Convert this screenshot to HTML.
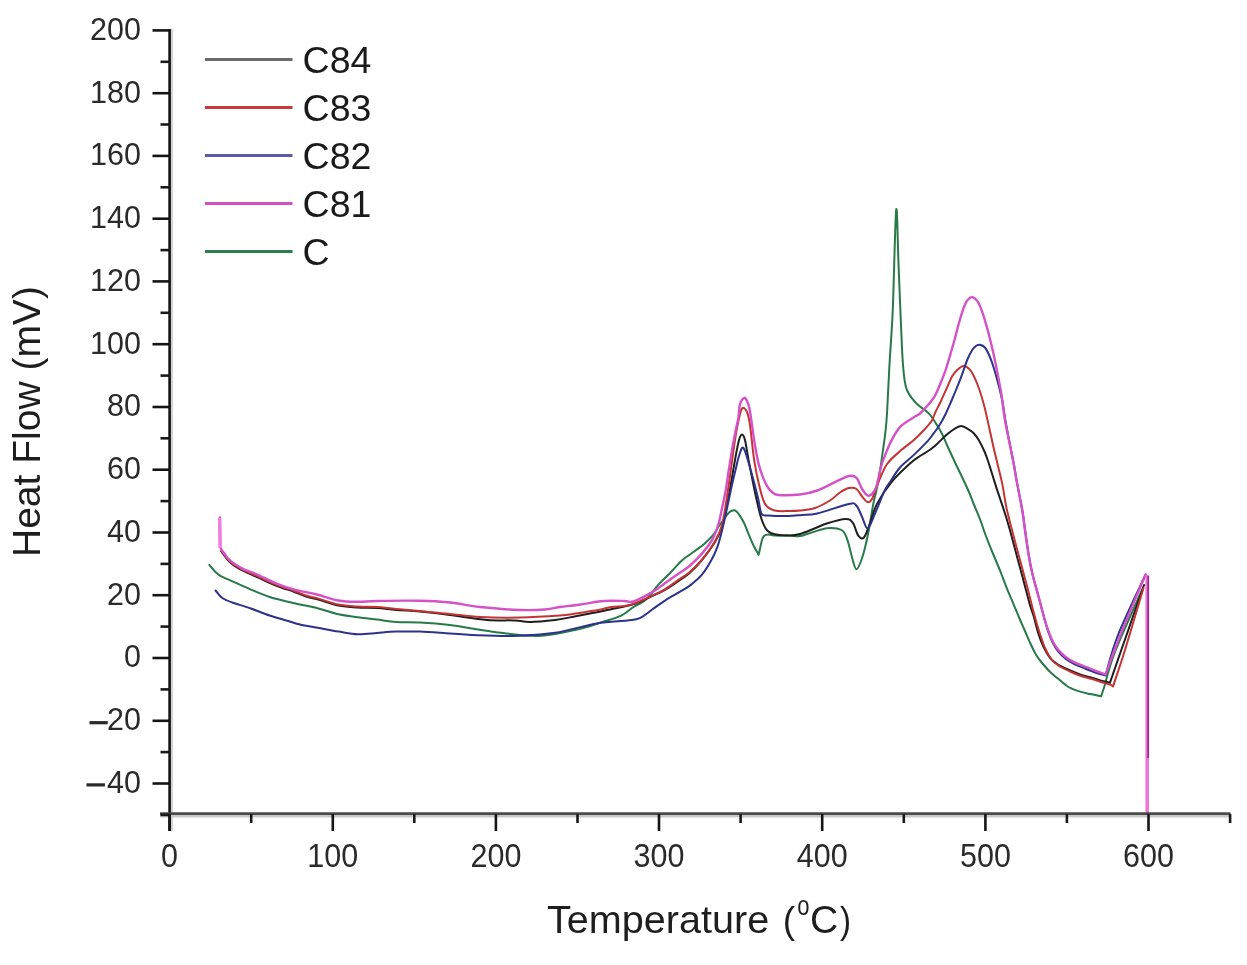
<!DOCTYPE html>
<html><head><meta charset="utf-8"><style>
html,body{margin:0;padding:0;background:#fff;width:1247px;height:965px;overflow:hidden}
svg{display:block;filter:blur(0.6px)}
text{font-family:"Liberation Sans",sans-serif;fill:#2a2a2a}
.tk{font-size:30.5px}
.lg{font-size:37.5px;fill:#1a1a1a}
.tt{font-size:39px;fill:#1e1e1e}
</style></head><body>
<svg width="1247" height="965" viewBox="0 0 1247 965">
<rect width="1247" height="965" fill="#fff"/>
<g>
<path d="M209.3,564.9C209.9,565.6 211.7,567.7 212.8,569.0C213.9,570.3 214.8,571.5 216.0,572.6C217.2,573.7 218.4,574.6 220.0,575.6C221.6,576.6 223.6,577.5 225.7,578.4C227.8,579.3 228.1,579.4 232.3,581.3C236.5,583.2 244.8,587.0 251.0,589.6C257.2,592.2 262.4,594.7 269.6,597.0C276.9,599.3 286.9,601.5 294.5,603.2C302.1,605.0 307.7,605.6 315.0,607.5C322.3,609.4 331.4,612.7 338.5,614.3C345.6,615.9 351.3,616.3 357.7,617.2C364.1,618.1 370.6,618.8 377.0,619.6C383.4,620.4 389.0,621.5 396.2,622.0C403.4,622.5 411.0,622.0 420.0,622.5C429.0,623.0 437.9,623.6 450.0,625.1C462.1,626.6 477.9,629.9 492.6,631.7C507.3,633.5 524.5,636.2 538.4,635.9C552.3,635.6 565.3,632.0 576.0,629.7C586.7,627.4 594.9,624.3 602.4,622.0C609.9,619.7 615.9,618.2 621.1,615.7C626.3,613.2 629.4,609.7 633.5,607.0C637.6,604.3 641.9,603.3 646.0,599.6C650.1,595.9 654.3,589.3 658.4,584.7C662.5,580.1 666.8,576.3 670.8,572.2C674.8,568.1 678.4,563.5 682.4,560.0C686.4,556.5 691.2,553.8 694.9,551.0C698.6,548.2 701.7,546.1 704.8,543.4C707.9,540.7 711.3,537.4 713.5,534.7C715.7,532.1 716.2,530.1 718.0,527.5C719.8,524.9 722.2,521.5 724.0,519.0C725.8,516.5 727.4,514.0 729.0,512.5C730.6,511.1 732.4,510.5 733.6,510.3C734.9,510.1 735.5,510.7 736.5,511.5C737.5,512.3 738.3,513.4 739.5,515.3C740.7,517.1 742.6,519.9 743.9,522.6C745.2,525.3 746.4,528.6 747.5,531.3C748.6,533.9 749.3,536.0 750.4,538.5C751.5,541.0 752.8,544.1 754.0,546.5C755.2,548.9 756.9,551.7 757.7,553.0C758.5,554.3 758.1,555.7 758.6,554.5C759.1,553.3 760.0,548.4 760.6,546.0C761.2,543.6 761.4,541.7 762.0,540.0C762.6,538.3 763.1,536.7 764.2,535.8C765.3,534.9 766.6,534.5 768.5,534.5C770.4,534.5 772.3,535.4 775.8,535.6C779.2,535.8 785.2,535.5 789.2,535.6C793.2,535.7 796.9,536.4 800.0,536.1C803.1,535.8 803.6,535.1 808.0,533.8C812.4,532.5 821.0,528.8 826.6,528.2C832.2,527.6 838.2,528.1 841.6,530.0C845.0,531.9 845.4,534.4 847.2,539.4C849.1,544.4 851.2,554.9 852.7,559.9C854.2,564.9 854.9,569.5 856.5,569.2C858.1,568.9 860.2,563.6 862.1,558.0C864.0,552.4 865.8,544.7 867.7,535.7C869.6,526.7 871.9,511.3 873.3,503.9C874.7,496.5 875.3,495.5 876.2,491.2C877.1,486.9 877.8,484.5 878.9,477.8C880.0,471.1 881.8,458.7 882.9,450.8C884.0,442.9 884.9,437.1 885.6,430.6C886.3,424.1 886.5,422.5 887.1,411.7C887.7,400.9 888.5,383.1 889.4,366.0C890.3,348.9 891.7,335.0 892.8,309.0C893.9,283.0 895.2,217.4 896.2,209.8C897.2,202.2 897.7,244.9 898.5,263.4C899.3,281.8 900.0,303.4 900.8,320.5C901.6,337.6 902.1,354.7 903.1,366.1C904.1,377.5 904.4,382.8 906.5,388.9C908.6,395.0 912.2,398.8 915.6,402.6C919.0,406.4 924.4,409.5 927.0,411.7C929.6,413.9 929.7,414.3 931.0,416.0C932.3,417.7 933.5,419.7 935.0,422.0C936.5,424.3 938.5,427.3 940.0,430.0C941.5,432.7 942.9,435.5 944.1,438.2C945.3,440.9 946.1,443.2 947.4,446.0C948.6,448.8 950.2,452.0 951.6,455.0C953.0,458.0 954.3,461.1 955.7,464.0C957.1,466.9 958.6,469.9 959.9,472.5C961.1,475.1 962.1,477.2 963.2,479.5C964.3,481.8 965.4,484.1 966.5,486.5C967.6,488.9 968.6,491.1 969.8,494.0C971.0,496.9 972.0,499.8 973.7,504.0C975.4,508.2 977.8,513.6 979.9,519.0C982.0,524.4 984.0,531.0 986.1,536.5C988.2,542.0 990.2,546.9 992.3,552.0C994.4,557.1 997.1,563.4 998.6,567.0C1000.1,570.6 999.7,569.7 1001.2,573.5C1002.7,577.3 1005.3,584.5 1007.4,589.7C1009.5,594.9 1011.7,599.8 1013.7,604.6C1015.7,609.4 1017.6,614.1 1019.5,618.5C1021.4,622.9 1023.2,626.8 1025.0,631.0C1026.8,635.2 1028.6,639.6 1030.4,643.5C1032.2,647.4 1034.1,651.3 1035.9,654.4C1037.7,657.5 1039.1,659.3 1041.3,662.0C1043.5,664.7 1046.2,668.0 1048.9,670.7C1051.6,673.4 1054.3,675.6 1057.6,678.3C1060.9,681.0 1064.9,684.8 1068.5,687.0C1072.1,689.2 1075.8,690.2 1079.4,691.4C1083.0,692.6 1086.7,693.3 1090.3,694.1C1093.9,694.9 1099.4,695.9 1101.2,696.3L1101.2,696.3L1104.5,686.0L1104.5,686.0C1106.2,680.3 1108.8,668.0 1115.0,652.0C1121.2,636.0 1137.5,600.3 1142.0,590.0" stroke="#277a48" stroke-width="2.0" fill="none" stroke-linejoin="round" stroke-linecap="round"/>
<path d="M221.0,551.0C221.4,551.6 222.7,553.2 223.7,554.5C224.7,555.8 225.6,557.4 226.8,558.8C228.0,560.2 229.4,561.6 230.9,563.0C232.4,564.4 233.9,565.6 236.1,567.0C238.3,568.4 240.4,569.5 243.9,571.2C247.4,572.9 251.9,574.6 257.2,577.0C262.5,579.4 269.6,583.0 275.8,585.5C282.0,588.0 289.3,590.1 294.5,592.0C299.7,593.9 302.8,595.5 306.9,596.8C311.0,598.1 313.9,598.4 319.2,599.9C324.5,601.4 332.1,604.3 338.5,605.6C344.9,606.9 351.3,607.2 357.7,607.6C364.1,608.0 370.6,607.7 377.0,608.1C383.4,608.5 389.0,609.4 396.2,610.0C403.4,610.6 411.0,610.7 420.0,611.5C429.0,612.3 438.8,613.6 450.0,615.0C461.2,616.4 476.2,619.0 487.0,619.9C497.8,620.8 507.8,620.1 515.0,620.5C522.2,620.9 523.3,622.1 530.0,622.0C536.7,621.9 548.0,620.8 555.0,620.0C562.0,619.2 566.2,618.1 572.0,617.0C577.8,615.9 584.1,614.7 590.0,613.5C595.9,612.3 599.9,611.6 607.2,610.0C614.5,608.4 626.5,606.3 634.0,604.0C641.5,601.7 646.9,598.3 652.0,596.0C657.1,593.7 660.4,592.3 664.6,590.0C668.8,587.7 672.9,584.8 677.0,582.0C681.1,579.2 685.4,576.7 689.5,573.0C693.6,569.3 697.8,565.0 701.9,560.0C706.0,555.0 710.9,548.5 714.3,543.0C717.6,537.5 719.7,534.2 722.0,527.0C724.3,519.8 725.8,511.2 728.0,500.0C730.2,488.8 733.2,470.0 735.0,460.0C736.8,450.0 737.8,444.3 739.0,440.0C740.2,435.7 741.0,434.4 742.0,434.4C743.0,434.4 743.9,435.8 745.0,440.0C746.1,444.2 746.7,450.1 748.5,459.6C750.3,469.1 753.8,487.1 756.0,497.0C758.2,506.9 759.7,513.7 761.6,519.3C763.5,524.9 765.0,528.0 767.2,530.5C769.4,533.0 770.8,533.5 774.6,534.3C778.4,535.1 785.8,535.5 790.0,535.5C794.2,535.5 795.8,535.2 800.0,534.0C804.2,532.8 810.6,530.0 815.0,528.3C819.4,526.5 821.6,525.1 826.6,523.5C831.6,521.9 840.9,519.0 845.3,518.9C849.6,518.8 850.5,519.8 852.7,522.6C854.9,525.4 856.4,533.2 858.3,535.7C860.2,538.2 862.0,539.4 863.9,537.5C865.8,535.6 867.3,530.1 869.5,524.5C871.7,518.9 873.3,511.0 877.0,503.9C880.7,496.8 886.3,488.4 891.9,481.6C897.5,474.8 905.9,467.2 910.6,462.9C915.3,458.6 916.8,458.2 920.0,456.0C923.2,453.8 927.3,451.7 930.0,449.8C932.7,447.9 934.1,446.7 936.2,444.8C938.3,442.9 940.3,440.6 942.4,438.6C944.5,436.6 946.6,434.7 948.7,433.0C950.8,431.3 952.8,429.8 954.9,428.6C957.0,427.5 959.0,426.1 961.1,426.1C963.2,426.1 965.2,427.5 967.3,428.6C969.4,429.8 971.5,431.0 973.5,433.0C975.5,435.0 977.1,437.3 979.0,440.5C980.9,443.7 983.1,448.3 984.7,452.0C986.3,455.7 987.4,459.3 988.5,462.5C989.6,465.7 989.9,466.9 991.2,471.0C992.5,475.1 994.7,482.3 996.2,487.1C997.8,491.9 999.1,495.9 1000.5,500.0C1001.9,504.1 1002.9,507.0 1004.5,512.0C1006.1,517.0 1008.2,523.8 1009.9,529.9C1011.6,536.0 1013.2,542.4 1014.9,548.6C1016.6,554.8 1018.2,561.0 1019.9,567.2C1021.6,573.4 1023.2,579.7 1024.9,585.9C1026.6,592.1 1028.4,599.5 1029.9,604.6C1031.4,609.7 1032.3,611.6 1033.7,616.3C1035.1,621.0 1036.5,627.5 1038.1,632.6C1039.7,637.7 1041.5,642.6 1043.5,646.8C1045.5,651.0 1047.7,654.9 1050.0,657.8C1052.3,660.7 1054.5,662.3 1057.6,664.3C1060.7,666.3 1064.9,668.1 1068.5,669.7C1072.1,671.3 1075.8,672.8 1079.4,674.1C1083.0,675.4 1086.7,676.2 1090.3,677.3C1093.9,678.4 1097.9,679.7 1101.2,680.6C1104.5,681.5 1108.5,682.4 1109.9,682.8L1109.9,682.8C1111.9,677.0 1116.3,664.3 1122.0,648.0C1127.7,631.7 1140.3,595.5 1144.0,585.0" stroke="#1e1e1e" stroke-width="2.0" fill="none" stroke-linejoin="round" stroke-linecap="round"/>
<path d="M221.0,550.5C221.4,551.0 222.7,552.5 223.7,553.8C224.7,555.0 225.6,556.6 226.8,558.0C228.0,559.4 229.4,560.9 230.9,562.2C232.4,563.5 233.9,564.6 236.1,566.0C238.3,567.4 240.4,568.7 243.9,570.4C247.4,572.1 251.9,573.6 257.2,576.0C262.5,578.4 269.6,582.0 275.8,584.5C282.0,587.0 289.3,589.1 294.5,591.0C299.7,592.9 302.8,594.5 306.9,595.8C311.0,597.1 313.9,597.4 319.2,598.9C324.5,600.4 332.1,603.3 338.5,604.6C344.9,605.9 351.3,606.2 357.7,606.6C364.1,607.0 370.6,606.7 377.0,607.1C383.4,607.5 389.0,608.4 396.2,609.0C403.4,609.6 411.0,610.1 420.0,610.9C429.0,611.7 440.0,613.0 450.0,614.0C460.0,615.0 468.3,616.4 480.0,617.0C491.7,617.6 506.7,617.8 520.0,617.5C533.3,617.2 551.2,616.1 560.0,615.5C568.8,614.9 568.5,614.5 572.8,613.9C577.1,613.3 581.4,612.5 585.7,611.9C590.0,611.2 594.2,610.8 598.5,610.0C602.8,609.2 607.0,607.7 611.3,607.0C615.5,606.3 620.2,606.6 624.0,606.0C627.8,605.4 629.6,605.3 634.3,603.6C639.0,601.9 647.2,598.1 652.2,595.8C657.2,593.5 660.5,592.1 664.6,589.6C668.7,587.1 672.9,583.8 677.0,580.9C681.1,578.0 685.4,575.7 689.5,572.2C693.6,568.7 697.8,564.8 701.9,559.8C706.0,554.8 710.9,548.2 714.3,542.4C717.6,536.6 719.7,533.7 722.0,525.0C724.3,516.3 725.8,504.2 728.0,490.0C730.2,475.8 733.0,452.7 735.0,440.0C737.0,427.3 738.7,419.3 740.0,414.0C741.3,408.7 741.7,408.3 742.9,408.0C744.1,407.7 745.8,409.2 747.0,412.0C748.2,414.8 748.8,417.1 750.0,425.0C751.2,432.9 752.5,449.2 754.1,459.6C755.7,470.0 757.8,480.1 759.7,487.6C761.6,495.1 762.8,500.6 765.3,504.4C767.8,508.2 770.5,509.4 774.6,510.5C778.7,511.6 785.8,511.0 790.0,511.0C794.2,511.0 795.8,511.0 800.0,510.5C804.2,510.0 810.0,509.7 815.0,508.0C820.0,506.3 825.8,503.1 830.0,500.5C834.2,497.9 836.8,494.6 840.0,492.5C843.2,490.4 846.2,488.7 849.0,488.1C851.8,487.5 854.3,487.6 856.5,489.0C858.7,490.4 860.2,494.3 862.1,496.5C864.0,498.7 866.1,501.7 867.7,502.1C869.4,502.5 870.4,501.9 872.0,499.0C873.6,496.1 875.0,490.3 877.5,484.5C880.0,478.7 883.1,469.9 886.9,464.3C890.7,458.7 895.9,454.9 900.4,450.8C904.9,446.8 910.0,443.5 913.9,440.0C917.8,436.5 921.0,433.2 924.0,430.0C927.0,426.8 930.1,423.3 931.9,420.5C933.7,417.7 933.7,416.0 935.0,413.1C936.3,410.2 938.0,407.2 939.9,403.3C941.8,399.4 944.0,394.2 946.1,389.6C948.2,385.1 950.4,379.3 952.3,376.0C954.2,372.7 955.6,371.4 957.5,369.7C959.4,368.0 961.6,365.9 963.7,365.9C965.8,365.9 968.0,367.6 969.9,369.7C971.8,371.8 973.3,375.0 974.9,378.4C976.5,381.8 978.0,385.6 979.5,390.0C981.0,394.4 982.7,400.0 984.0,405.0C985.3,410.0 986.1,413.7 987.5,419.9C988.9,426.1 990.8,435.0 992.4,442.3C994.0,449.6 995.7,456.4 997.4,463.5C999.1,470.6 1000.9,477.2 1002.4,484.6C1003.9,492.0 1004.9,500.4 1006.5,508.0C1008.1,515.6 1010.2,523.2 1012.0,530.0C1013.8,536.8 1015.3,542.8 1017.0,549.0C1018.7,555.2 1020.3,561.3 1022.0,567.5C1023.7,573.7 1025.4,579.9 1027.0,586.0C1028.6,592.1 1030.1,598.5 1031.5,604.0C1032.9,609.5 1034.1,614.0 1035.5,619.0C1036.9,624.0 1038.4,629.2 1040.0,634.0C1041.6,638.8 1043.1,643.8 1045.0,648.0C1046.9,652.2 1049.2,656.5 1051.5,659.5C1053.8,662.5 1055.9,664.0 1059.0,666.0C1062.1,668.0 1066.3,669.8 1070.0,671.5C1073.7,673.2 1077.3,674.8 1081.0,676.0C1084.7,677.2 1088.3,677.9 1092.0,679.0C1095.7,680.1 1100.0,681.6 1103.0,682.5C1106.0,683.4 1108.3,683.8 1110.0,684.5C1111.7,685.2 1112.5,686.2 1113.0,686.5L1113.0,686.5C1115.0,680.4 1119.9,666.4 1125.0,650.0C1130.1,633.6 1140.4,598.3 1143.5,588.0" stroke="#c43434" stroke-width="2.0" fill="none" stroke-linejoin="round" stroke-linecap="round"/>
<path d="M215.5,590.5C216.7,591.8 219.6,596.0 222.4,598.0C225.2,600.0 227.5,600.8 232.3,602.5C237.1,604.2 244.8,606.3 251.0,608.5C257.2,610.7 263.4,613.4 269.6,615.5C275.8,617.6 283.2,619.5 288.3,621.0C293.4,622.5 294.9,623.3 300.0,624.5C305.1,625.7 312.8,626.8 319.2,628.0C325.6,629.2 332.1,630.6 338.5,631.6C344.9,632.6 351.3,634.1 357.7,634.3C364.1,634.5 370.6,633.5 377.0,633.0C383.4,632.5 389.0,631.8 396.2,631.6C403.4,631.4 411.0,631.3 420.0,631.6C429.0,631.9 441.4,632.9 450.0,633.4C458.6,633.9 461.1,634.5 471.7,634.9C482.3,635.3 499.5,636.2 513.4,635.9C527.3,635.5 541.2,634.9 555.1,632.8C569.0,630.7 584.8,625.4 596.8,623.4C608.8,621.4 620.1,621.4 627.3,620.5C634.4,619.6 635.6,620.0 639.7,618.2C643.9,616.4 648.1,612.4 652.2,609.5C656.4,606.6 660.5,603.5 664.6,600.8C668.7,598.1 672.9,595.9 677.0,593.4C681.1,590.9 685.4,589.0 689.5,585.9C693.6,582.8 698.3,578.9 701.9,574.7C705.5,570.5 708.4,565.4 711.0,560.8C713.6,556.2 715.4,552.3 717.3,547.1C719.2,541.9 720.6,536.3 722.2,529.7C723.9,523.1 725.7,514.4 727.2,507.3C728.8,500.2 730.1,493.2 731.5,487.0C732.9,480.8 734.2,475.2 735.5,470.0C736.8,464.8 737.7,459.7 739.0,456.0C740.3,452.3 741.6,445.8 743.5,448.0C745.4,450.2 748.0,460.8 750.4,469.0C752.8,477.2 755.9,489.6 757.8,497.0C759.7,504.4 759.7,510.6 761.6,513.7C763.5,516.8 764.6,515.1 769.0,515.5C773.4,515.9 782.5,516.1 788.0,516.0C793.5,515.9 797.1,515.4 802.0,515.0C806.9,514.6 809.5,515.4 817.3,513.5C825.1,511.6 842.5,505.2 849.0,503.9C855.5,502.6 854.3,503.6 856.5,505.8C858.7,508.0 860.2,513.3 862.1,517.0C864.0,520.7 865.5,528.8 867.7,528.2C869.9,527.6 872.3,519.5 875.1,513.3C877.9,507.1 881.9,496.4 884.5,490.9C887.1,485.4 888.4,484.5 891.0,480.5C893.6,476.5 896.6,471.3 900.4,467.0C904.2,462.7 909.4,459.2 913.9,454.9C918.4,450.6 924.2,444.8 927.4,441.4C930.6,437.9 931.1,436.8 933.1,434.2C935.1,431.6 937.2,428.8 939.3,425.5C941.4,422.2 943.4,418.6 945.5,414.3C947.6,410.1 950.0,404.1 951.8,400.0C953.5,395.9 954.5,393.8 956.0,390.0C957.5,386.2 959.2,382.3 961.1,377.2C963.0,372.1 965.5,364.1 967.4,359.5C969.3,354.9 971.0,351.9 972.4,349.7C973.8,347.4 974.8,346.8 976.0,346.0C977.2,345.2 978.4,344.6 979.9,344.8C981.4,345.1 983.3,345.6 984.9,347.5C986.5,349.4 988.1,352.8 989.5,356.0C990.9,359.2 992.2,362.8 993.5,367.0C994.8,371.2 996.0,375.4 997.5,381.0C999.0,386.6 1001.0,394.1 1002.3,400.8C1003.6,407.5 1004.2,413.5 1005.5,421.0C1006.8,428.5 1008.8,438.8 1010.2,446.0C1011.6,453.2 1012.7,457.9 1013.9,464.5C1015.1,471.1 1016.1,477.7 1017.6,485.6C1019.1,493.5 1021.3,504.2 1022.6,511.8C1023.9,519.4 1024.2,523.6 1025.2,531.0C1026.2,538.4 1027.7,548.8 1028.9,556.0C1030.1,563.2 1031.1,568.3 1032.6,574.5C1034.0,580.7 1035.9,586.8 1037.6,593.0C1039.3,599.2 1041.3,607.2 1042.6,612.0C1043.9,616.8 1044.4,618.8 1045.3,622.0C1046.2,625.2 1047.0,628.1 1048.2,631.5C1049.4,634.9 1050.9,639.0 1052.5,642.3C1054.1,645.5 1055.7,648.3 1057.9,651.0C1060.1,653.7 1062.9,656.5 1065.6,658.7C1068.3,660.9 1071.0,662.5 1074.3,664.1C1077.5,665.7 1081.5,667.0 1085.1,668.5C1088.7,670.0 1092.6,671.6 1096.0,672.8C1099.4,674.0 1103.9,675.0 1105.5,675.5L1105.5,675.5C1107.6,668.8 1111.3,651.8 1118.0,635.0C1124.7,618.2 1141.0,584.6 1145.6,574.5" stroke="#2c338c" stroke-width="2.0" fill="none" stroke-linejoin="round" stroke-linecap="round"/>
<path d="M219.9,517.4L220.4,547.0L220.4,547.0C220.6,547.5 220.9,549.1 221.5,550.0C222.1,550.9 222.8,551.3 223.7,552.5C224.6,553.7 225.6,555.6 226.8,557.0C228.0,558.4 229.4,559.8 230.9,561.1C232.4,562.4 233.9,563.6 236.1,565.0C238.3,566.4 240.4,567.8 243.9,569.4C247.4,571.0 251.9,572.3 257.2,574.6C262.5,576.9 269.6,580.8 275.8,583.3C282.0,585.8 288.0,587.8 294.5,589.6C301.0,591.4 307.7,592.2 315.0,594.0C322.3,595.8 331.4,599.2 338.5,600.5C345.6,601.8 351.3,601.7 357.7,601.8C364.1,601.9 366.6,601.2 377.0,601.0C387.4,600.8 407.8,600.5 420.0,600.8C432.2,601.0 440.0,601.5 450.0,602.5C460.0,603.5 468.3,605.8 480.0,607.0C491.7,608.2 509.2,609.6 520.0,610.0C530.8,610.4 538.3,610.0 545.0,609.5C551.7,609.0 555.3,607.7 560.0,607.0C564.7,606.3 568.7,606.1 573.0,605.5C577.3,604.9 581.8,604.3 586.0,603.6C590.2,602.9 594.3,602.0 598.5,601.5C602.7,601.0 606.6,600.8 611.0,600.7C615.4,600.6 621.2,600.9 625.0,601.0C628.8,601.1 629.0,603.0 633.5,601.5C638.0,600.0 647.0,595.1 652.2,592.1C657.4,589.1 660.5,586.3 664.6,583.4C668.7,580.5 672.9,577.6 677.0,574.7C681.1,571.8 685.4,569.5 689.5,566.0C693.6,562.5 698.1,558.0 701.9,553.6C705.7,549.2 709.5,544.6 712.3,539.7C715.1,534.8 716.9,529.4 718.5,524.0C720.1,518.6 721.0,513.2 722.2,507.3C723.5,501.4 725.0,494.6 726.0,488.7C727.0,482.8 727.5,478.4 728.5,472.0C729.5,465.6 730.9,456.7 732.0,450.0C733.1,443.3 734.4,437.3 735.4,432.0C736.4,426.7 737.5,422.7 738.3,418.0C739.1,413.3 739.0,407.4 740.0,404.0C741.0,400.6 743.2,398.3 744.4,397.8C745.6,397.3 746.1,399.2 747.0,401.0C747.9,402.8 748.6,404.3 749.5,408.7C750.4,413.1 751.4,421.1 752.3,427.3C753.2,433.5 754.0,439.8 755.1,446.0C756.2,452.2 757.4,459.2 758.8,464.6C760.2,470.0 762.0,474.8 763.5,478.6C765.0,482.4 766.6,485.3 768.0,487.5C769.4,489.7 770.3,490.8 772.0,492.0C773.7,493.2 773.7,494.6 778.4,495.0C783.1,495.4 793.5,495.2 800.0,494.5C806.5,493.8 811.3,492.6 817.3,490.5C823.3,488.4 830.7,484.0 836.0,481.6C841.3,479.2 845.6,476.6 849.0,476.0C852.4,475.4 854.3,475.6 856.5,477.8C858.7,480.0 860.3,486.1 862.1,489.0C863.9,491.9 865.9,494.7 867.5,495.5C869.1,496.3 870.5,495.4 872.0,494.0C873.5,492.6 874.8,491.3 876.2,487.0C877.7,482.7 879.4,472.9 880.7,468.0C882.0,463.1 882.5,462.0 884.2,457.6C885.9,453.2 888.3,446.6 891.0,441.4C893.7,436.2 896.6,430.6 900.4,426.6C904.2,422.6 910.6,419.4 913.9,417.2C917.2,415.0 917.8,415.4 920.0,413.5C922.2,411.6 924.9,408.7 927.4,405.8C929.9,402.9 932.8,399.4 934.9,395.9C937.0,392.4 938.2,388.6 939.9,384.7C941.6,380.8 943.2,377.0 944.9,372.2C946.6,367.4 948.2,361.5 949.9,356.0C951.5,350.5 953.1,345.0 954.8,339.0C956.4,333.0 958.1,325.7 959.8,320.0C961.5,314.3 963.3,308.5 964.8,305.0C966.2,301.5 967.2,300.3 968.5,299.0C969.8,297.7 970.9,296.8 972.4,297.2C973.9,297.6 975.7,298.7 977.4,301.2C979.1,303.7 980.8,307.8 982.4,312.4C984.0,317.0 985.8,323.4 987.3,328.6C988.8,333.8 989.9,338.3 991.1,343.5C992.4,348.7 993.6,353.9 994.8,359.7C996.0,365.5 997.4,372.5 998.5,378.4C999.6,384.3 1000.4,388.1 1001.5,395.0C1002.6,401.9 1003.5,411.6 1004.9,419.9C1006.3,428.2 1008.4,437.5 1009.9,444.8C1011.4,452.1 1012.4,456.9 1013.6,463.5C1014.8,470.1 1015.8,476.7 1017.3,484.6C1018.8,492.5 1021.0,503.2 1022.3,510.8C1023.6,518.4 1023.9,522.6 1024.9,529.9C1026.0,537.2 1027.4,547.5 1028.6,554.8C1029.8,562.1 1030.8,567.3 1032.3,573.5C1033.8,579.7 1035.6,585.9 1037.3,592.1C1039.0,598.3 1041.0,606.1 1042.3,610.8C1043.6,615.5 1044.1,617.4 1045.0,620.5C1045.9,623.6 1046.7,626.2 1047.9,629.5C1049.1,632.8 1050.6,637.0 1052.2,640.3C1053.8,643.6 1055.4,646.4 1057.6,649.1C1059.8,651.8 1062.6,654.5 1065.3,656.7C1068.0,658.9 1070.8,660.5 1074.0,662.1C1077.2,663.7 1081.2,665.0 1084.8,666.5C1088.4,668.0 1092.2,669.4 1095.7,670.8C1099.2,672.1 1103.9,674.0 1105.5,674.6L1105.5,674.6C1107.9,668.2 1113.3,652.7 1120.0,636.0C1126.7,619.3 1141.3,584.8 1145.6,574.5" stroke="#d452c6" stroke-width="2.4" fill="none" stroke-linejoin="round" stroke-linecap="round"/>
<line x1="219.6" y1="518" x2="220" y2="548" stroke="#ee80e4" stroke-width="3.4"/>
<line x1="1147.2" y1="575" x2="1147.2" y2="814" stroke="#ee74dc" stroke-width="3.6"/>
<line x1="1148.2" y1="576" x2="1148.2" y2="758" stroke="#9a2a8c" stroke-width="1.8"/>
</g>
<g>
<line x1="172" y1="29" x2="172" y2="831" stroke="#d2d2d2" stroke-width="2"/>
<line x1="160" y1="816.2" x2="1230.5" y2="816.2" stroke="#c8c8c8" stroke-width="2.4"/>
<line x1="169.6" y1="29" x2="169.6" y2="831" stroke="#111" stroke-width="2.6"/>
<line x1="160" y1="813.6" x2="1230.5" y2="813.6" stroke="#4a4a4a" stroke-width="2.6"/>
<line x1="160.5" y1="814.9" x2="169.6" y2="814.9" stroke="#1a1a1a" stroke-width="2.6"/>
<line x1="152.5" y1="783.5" x2="169.6" y2="783.5" stroke="#151515" stroke-width="2.6"/>
<line x1="160.5" y1="752.1" x2="169.6" y2="752.1" stroke="#1a1a1a" stroke-width="2.6"/>
<line x1="152.5" y1="720.8" x2="169.6" y2="720.8" stroke="#151515" stroke-width="2.6"/>
<line x1="160.5" y1="689.4" x2="169.6" y2="689.4" stroke="#1a1a1a" stroke-width="2.6"/>
<line x1="152.5" y1="658.0" x2="169.6" y2="658.0" stroke="#151515" stroke-width="2.6"/>
<line x1="160.5" y1="626.6" x2="169.6" y2="626.6" stroke="#1a1a1a" stroke-width="2.6"/>
<line x1="152.5" y1="595.2" x2="169.6" y2="595.2" stroke="#151515" stroke-width="2.6"/>
<line x1="160.5" y1="563.9" x2="169.6" y2="563.9" stroke="#1a1a1a" stroke-width="2.6"/>
<line x1="152.5" y1="532.5" x2="169.6" y2="532.5" stroke="#151515" stroke-width="2.6"/>
<line x1="160.5" y1="501.1" x2="169.6" y2="501.1" stroke="#1a1a1a" stroke-width="2.6"/>
<line x1="152.5" y1="469.7" x2="169.6" y2="469.7" stroke="#151515" stroke-width="2.6"/>
<line x1="160.5" y1="438.3" x2="169.6" y2="438.3" stroke="#1a1a1a" stroke-width="2.6"/>
<line x1="152.5" y1="407.0" x2="169.6" y2="407.0" stroke="#151515" stroke-width="2.6"/>
<line x1="160.5" y1="375.6" x2="169.6" y2="375.6" stroke="#1a1a1a" stroke-width="2.6"/>
<line x1="152.5" y1="344.2" x2="169.6" y2="344.2" stroke="#151515" stroke-width="2.6"/>
<line x1="160.5" y1="312.8" x2="169.6" y2="312.8" stroke="#1a1a1a" stroke-width="2.6"/>
<line x1="152.5" y1="281.4" x2="169.6" y2="281.4" stroke="#151515" stroke-width="2.6"/>
<line x1="160.5" y1="250.1" x2="169.6" y2="250.1" stroke="#1a1a1a" stroke-width="2.6"/>
<line x1="152.5" y1="218.7" x2="169.6" y2="218.7" stroke="#151515" stroke-width="2.6"/>
<line x1="160.5" y1="187.3" x2="169.6" y2="187.3" stroke="#1a1a1a" stroke-width="2.6"/>
<line x1="152.5" y1="155.9" x2="169.6" y2="155.9" stroke="#151515" stroke-width="2.6"/>
<line x1="160.5" y1="124.5" x2="169.6" y2="124.5" stroke="#1a1a1a" stroke-width="2.6"/>
<line x1="152.5" y1="93.2" x2="169.6" y2="93.2" stroke="#151515" stroke-width="2.6"/>
<line x1="160.5" y1="61.8" x2="169.6" y2="61.8" stroke="#1a1a1a" stroke-width="2.6"/>
<line x1="152.5" y1="30.4" x2="169.6" y2="30.4" stroke="#151515" stroke-width="2.6"/>
<line x1="169.6" y1="814" x2="169.6" y2="831" stroke="#151515" stroke-width="2.6"/>
<line x1="251.2" y1="814" x2="251.2" y2="823" stroke="#1a1a1a" stroke-width="2.6"/>
<line x1="332.8" y1="814" x2="332.8" y2="831" stroke="#151515" stroke-width="2.6"/>
<line x1="414.3" y1="814" x2="414.3" y2="823" stroke="#1a1a1a" stroke-width="2.6"/>
<line x1="495.9" y1="814" x2="495.9" y2="831" stroke="#151515" stroke-width="2.6"/>
<line x1="577.5" y1="814" x2="577.5" y2="823" stroke="#1a1a1a" stroke-width="2.6"/>
<line x1="659.0" y1="814" x2="659.0" y2="831" stroke="#151515" stroke-width="2.6"/>
<line x1="740.6" y1="814" x2="740.6" y2="823" stroke="#1a1a1a" stroke-width="2.6"/>
<line x1="822.2" y1="814" x2="822.2" y2="831" stroke="#151515" stroke-width="2.6"/>
<line x1="903.8" y1="814" x2="903.8" y2="823" stroke="#1a1a1a" stroke-width="2.6"/>
<line x1="985.4" y1="814" x2="985.4" y2="831" stroke="#151515" stroke-width="2.6"/>
<line x1="1066.9" y1="814" x2="1066.9" y2="823" stroke="#1a1a1a" stroke-width="2.6"/>
<line x1="1148.5" y1="814" x2="1148.5" y2="831" stroke="#151515" stroke-width="2.6"/>
<line x1="1230.1" y1="814" x2="1230.1" y2="823" stroke="#1a1a1a" stroke-width="2.6"/>
</g>
<g>
<text transform="translate(141,792.9) scale(1,1.045)" text-anchor="end" class="tk">40</text>
<rect x="86.5" y="783.3" width="18.4" height="3.2" fill="#2a2a2a"/>
<text transform="translate(141,730.2) scale(1,1.045)" text-anchor="end" class="tk">20</text>
<rect x="89.5" y="721.1" width="18.2" height="3.2" fill="#2a2a2a"/>
<text transform="translate(141,667.4) scale(1,1.045)" text-anchor="end" class="tk">0</text>
<text transform="translate(141,604.6) scale(1,1.045)" text-anchor="end" class="tk">20</text>
<text transform="translate(141,541.9) scale(1,1.045)" text-anchor="end" class="tk">40</text>
<text transform="translate(141,479.1) scale(1,1.045)" text-anchor="end" class="tk">60</text>
<text transform="translate(141,416.4) scale(1,1.045)" text-anchor="end" class="tk">80</text>
<text transform="translate(141,353.6) scale(1,1.045)" text-anchor="end" class="tk">100</text>
<text transform="translate(141,290.8) scale(1,1.045)" text-anchor="end" class="tk">120</text>
<text transform="translate(141,228.1) scale(1,1.045)" text-anchor="end" class="tk">140</text>
<text transform="translate(141,165.3) scale(1,1.045)" text-anchor="end" class="tk">160</text>
<text transform="translate(141,102.6) scale(1,1.045)" text-anchor="end" class="tk">180</text>
<text transform="translate(141,39.8) scale(1,1.045)" text-anchor="end" class="tk">200</text>
<text transform="translate(169.6,866.5) scale(1,1.07)" text-anchor="middle" class="tk">0</text>
<text transform="translate(332.8,866.5) scale(1,1.07)" text-anchor="middle" class="tk">100</text>
<text transform="translate(495.9,866.5) scale(1,1.07)" text-anchor="middle" class="tk">200</text>
<text transform="translate(659.0,866.5) scale(1,1.07)" text-anchor="middle" class="tk">300</text>
<text transform="translate(822.2,866.5) scale(1,1.07)" text-anchor="middle" class="tk">400</text>
<text transform="translate(985.4,866.5) scale(1,1.07)" text-anchor="middle" class="tk">500</text>
<text transform="translate(1148.5,866.5) scale(1,1.07)" text-anchor="middle" class="tk">600</text>
</g>
<g>
<line x1="205" y1="59.4" x2="292.5" y2="59.4" stroke="#6a6a6a" stroke-width="3"/>
<text x="302.6" y="72.7" class="lg">C84</text>
<line x1="205" y1="107.4" x2="292.5" y2="107.4" stroke="#c83a3a" stroke-width="3"/>
<text x="302.6" y="120.7" class="lg">C83</text>
<line x1="205" y1="155.4" x2="292.5" y2="155.4" stroke="#5a5aa8" stroke-width="3"/>
<text x="302.6" y="168.7" class="lg">C82</text>
<line x1="205" y1="203.4" x2="292.5" y2="203.4" stroke="#d050c8" stroke-width="3"/>
<text x="302.6" y="216.7" class="lg">C81</text>
<line x1="205" y1="251.4" x2="292.5" y2="251.4" stroke="#2e7d4e" stroke-width="3"/>
<text x="302.6" y="264.7" class="lg">C</text>
</g>
<text x="547" y="933.3" class="tt" style="font-size:39.6px">Temperature</text>
<text transform="translate(788.9,933.3) scale(0.95,0.96)" text-anchor="middle" class="tt">(</text>
<text transform="translate(803.3,914.5) scale(0.92,1.12)" text-anchor="middle" class="tt" style="font-size:24px">o</text>
<text x="809.9" y="933.3" class="tt">C</text>
<text transform="translate(845.6,933.3) scale(0.85,0.96)" text-anchor="middle" class="tt">)</text>
<text transform="translate(39.5,557) rotate(-90)" class="tt">Heat Flow (mV)</text>
</svg>
</body></html>
